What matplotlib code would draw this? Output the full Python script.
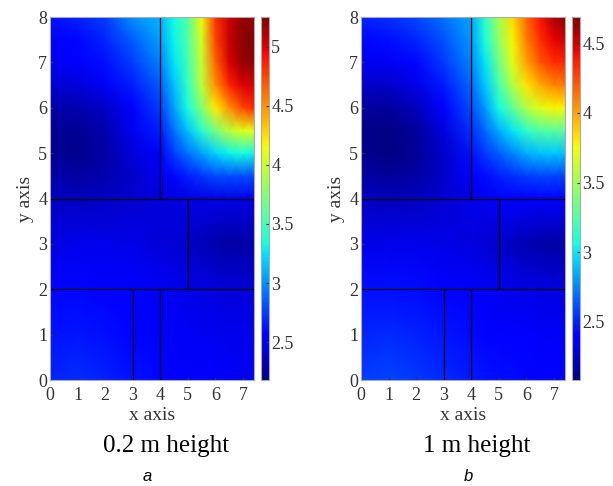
import numpy as np
import matplotlib.pyplot as plt

# ---------- grid nodes (m) ----------
x_nodes = [0, 1, 2, 3, 4, 4.5, 5, 5.5, 6, 6.5, 7, 7.4]
y_nodes = [0, 1, 2, 3, 4, 4.5, 5, 5.5, 6, 6.5, 7, 7.5, 8]

# ---------- values, rows go from y=0 up to y=8 ----------
field_02m = [
    [2.68, 2.70, 2.67, 2.62, 2.58, 2.565, 2.55, 2.535, 2.52, 2.51, 2.50, 2.50],
    [2.62, 2.63, 2.60, 2.57, 2.53, 2.515, 2.50, 2.49, 2.48, 2.475, 2.47, 2.47],
    [2.58, 2.58, 2.56, 2.54, 2.50, 2.48, 2.46, 2.45, 2.44, 2.43, 2.42, 2.42],
    [2.45, 2.47, 2.47, 2.46, 2.43, 2.41, 2.38, 2.34, 2.30, 2.28, 2.28, 2.30],
    [2.36, 2.35, 2.36, 2.40, 2.42, 2.44, 2.45, 2.46, 2.46, 2.46, 2.46, 2.45],
    [2.30, 2.28, 2.30, 2.38, 2.48, 2.58, 2.65, 2.72, 2.78, 2.80, 2.80, 2.78],
    [2.25, 2.22, 2.28, 2.42, 2.55, 2.75, 2.90, 3.05, 3.20, 3.30, 3.35, 3.30],
    [2.25, 2.23, 2.30, 2.48, 2.65, 2.90, 3.15, 3.40, 3.70, 3.95, 4.10, 4.10],
    [2.30, 2.30, 2.38, 2.55, 2.75, 3.05, 3.35, 3.75, 4.20, 4.50, 4.75, 4.85],
    [2.40, 2.42, 2.50, 2.65, 2.85, 3.15, 3.45, 3.95, 4.50, 4.85, 5.00, 5.00],
    [2.50, 2.52, 2.60, 2.75, 2.95, 3.25, 3.50, 4.00, 4.65, 5.00, 5.20, 5.20],
    [2.55, 2.58, 2.68, 2.85, 3.05, 3.30, 3.55, 4.05, 4.75, 5.05, 5.22, 5.22],
    [2.62, 2.66, 2.75, 3.00, 3.12, 3.33, 3.56, 4.15, 4.80, 5.05, 5.20, 5.20],
]

field_1m = [
    [2.56, 2.58, 2.55, 2.51, 2.47, 2.455, 2.44, 2.43, 2.42, 2.415, 2.41, 2.41],
    [2.50, 2.51, 2.49, 2.46, 2.43, 2.41, 2.39, 2.38, 2.37, 2.365, 2.36, 2.36],
    [2.44, 2.44, 2.43, 2.41, 2.38, 2.36, 2.34, 2.33, 2.32, 2.31, 2.30, 2.30],
    [2.32, 2.33, 2.33, 2.32, 2.30, 2.28, 2.26, 2.23, 2.20, 2.18, 2.17, 2.19],
    [2.24, 2.22, 2.23, 2.27, 2.32, 2.34, 2.36, 2.38, 2.38, 2.38, 2.38, 2.37],
    [2.17, 2.15, 2.17, 2.25, 2.38, 2.43, 2.48, 2.52, 2.56, 2.58, 2.58, 2.57],
    [2.12, 2.10, 2.14, 2.25, 2.45, 2.55, 2.65, 2.75, 2.85, 2.90, 2.92, 2.90],
    [2.12, 2.10, 2.15, 2.30, 2.52, 2.68, 2.85, 3.00, 3.15, 3.25, 3.28, 3.28],
    [2.16, 2.15, 2.22, 2.38, 2.60, 2.80, 3.05, 3.30, 3.55, 3.70, 3.78, 3.78],
    [2.25, 2.25, 2.32, 2.47, 2.68, 2.92, 3.22, 3.55, 3.82, 3.98, 4.08, 4.10],
    [2.34, 2.35, 2.42, 2.55, 2.75, 3.00, 3.35, 3.70, 4.00, 4.22, 4.33, 4.35],
    [2.42, 2.44, 2.50, 2.62, 2.80, 3.08, 3.45, 3.78, 4.10, 4.33, 4.45, 4.50],
    [2.50, 2.52, 2.58, 2.70, 2.84, 3.13, 3.52, 3.85, 4.17, 4.40, 4.58, 4.67],
]

limits_02m = (2.18, 5.25)
limits_1m = (2.08, 4.69)
cbar_ticks_02m = [2.5, 3, 3.5, 4, 4.5, 5]
cbar_ticks_1m = [2.5, 3, 3.5, 4, 4.5]

# wall segments: (x0, x1), (y0, y1)
walls = [
    ((0, 7.4), (4, 4)),
    ((0, 7.4), (2, 2)),
    ((4, 4), (4, 8)),
    ((5, 5), (2, 4)),
    ((3, 3), (0, 2)),
    ((4, 4), (0, 2)),
]

titles = ["0.2 m height", "1 m height"]
letters = ["a", "b"]

# ---------- Plotting ----------
serif = "Liberation Serif"
tick_col = "#333333"

fig = plt.figure(figsize=(6.13, 4.86), dpi=100)

panels = [
    (field_02m, limits_02m, cbar_ticks_02m, 50, 261, 166, 147),
    (field_1m, limits_1m, cbar_ticks_1m, 361, 572, 477, 468),
]

for i, (field, lims, cticks, ax_left, cb_left, title_x, letter_x) in enumerate(panels):
    ax = fig.add_axes([ax_left / 613, 0.218, 204 / 613, 0.747])
    cax = fig.add_axes([cb_left / 613, 0.218, 7.5 / 613, 0.747])

    mesh = ax.pcolormesh(x_nodes, y_nodes, np.array(field), shading="gouraud",
                         cmap="jet", vmin=lims[0], vmax=lims[1])
    for xs, ys in walls:
        ax.plot(xs, ys, color="black", lw=0.9)

    ax.set_xlim(0, 7.4)
    ax.set_ylim(0, 8)
    ax.set_xticks(range(8))
    ax.set_yticks(range(9))
    ax.tick_params(direction="in", length=2, pad=2, labelsize=13, colors=tick_col)
    ax.tick_params(axis="x", pad=5)
    for lab in ax.get_xticklabels() + ax.get_yticklabels():
        lab.set_fontfamily(serif)
    ax.set_xlabel("x axis", fontsize=14, family=serif, color=tick_col, labelpad=2)
    ax.set_ylabel("y axis", fontsize=14, family=serif, color=tick_col, labelpad=3)
    for sp in ax.spines.values():
        sp.set_color("#aaaaaa")
        sp.set_linewidth(0.8)

    cb = fig.colorbar(mesh, cax=cax)
    cb.set_ticks(cticks)
    cb.set_ticklabels([f"{t:g}" for t in cticks])
    cax.tick_params(direction="in", length=2, pad=2, labelsize=13, colors=tick_col)
    for lab in cax.get_yticklabels():
        lab.set_fontfamily(serif)
    cb.outline.set_edgecolor("#aaaaaa")
    cb.outline.set_linewidth(0.8)

    fig.text(title_x / 613, 1 - 446 / 486, titles[i], ha="center", va="center",
             fontsize=18, family=serif)
    fig.text(letter_x / 613, 1 - 476 / 486, letters[i], ha="center", va="center",
             fontsize=12, family="Liberation Sans", style="italic")

fig.savefig("out.png", dpi=100)
